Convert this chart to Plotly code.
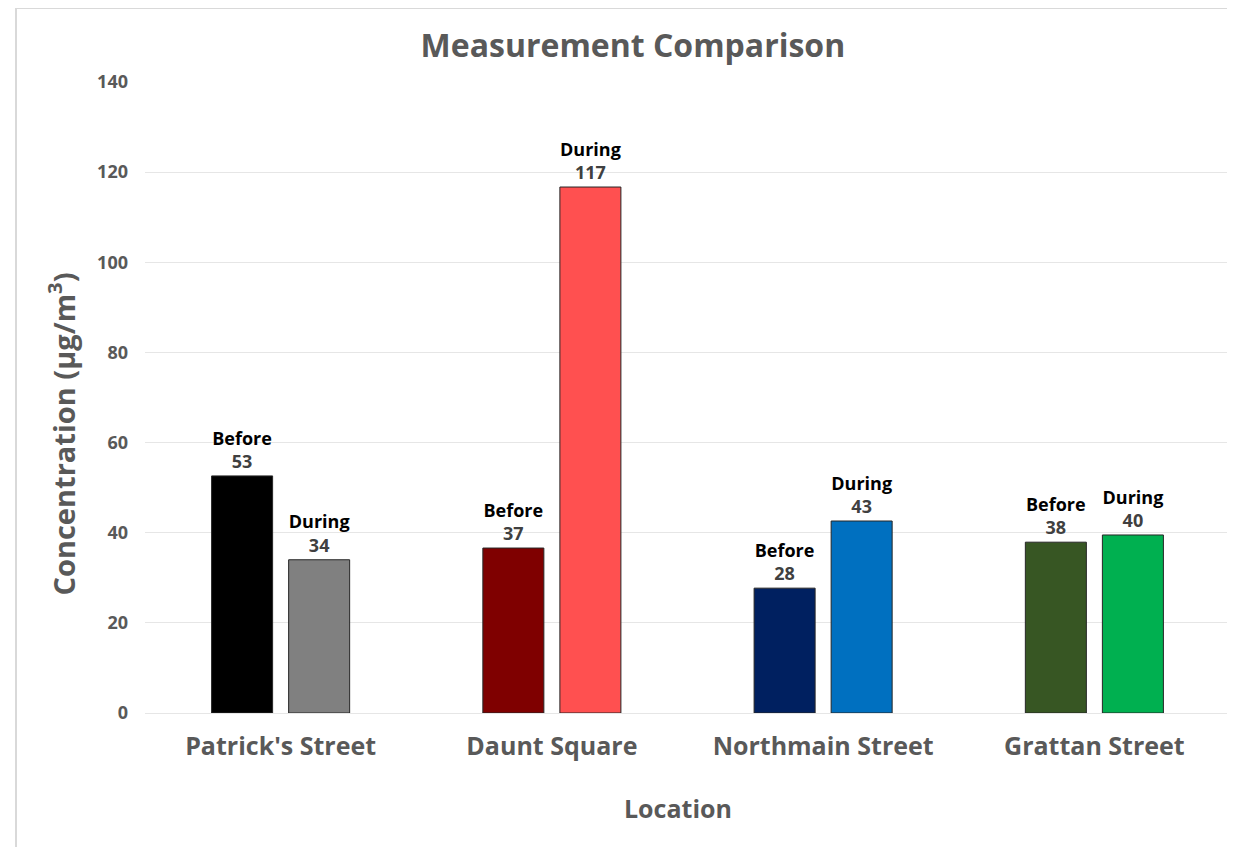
import plotly.graph_objects as go

locations = ["Patrick's Street", "Daunt Square", "Northmain Street", "Grattan Street"]
before_vals = [52.6, 36.6, 27.7, 37.9]
during_vals = [34.0, 116.7, 42.6, 39.5]
before_colors = ["#000000", "#7F0000", "#002060", "#375623"]
during_colors = ["#808080", "#FF5050", "#0070C0", "#00B050"]
y_ticks = [0, 20, 40, 60, 80, 100, 120, 140]

FONT = "Open Sans"
GRAY = "#595959"

fig = go.Figure()
for name, vals, cols in [("Before", before_vals, before_colors), ("During", during_vals, during_colors)]:
    fig.add_trace(go.Bar(
        x=locations, y=vals, name=name,
        marker=dict(color=cols, line=dict(color="#262626", width=1)),
        texttemplate="<span style='color:#000000'>" + name + "</span><br><span style='color:#404040'>%{y:.0f}</span>",
        textposition="outside",
        constraintext="none",
        textfont=dict(family=FONT, size=18, weight="bold"),
        cliponaxis=False,
    ))

fig.update_layout(
    width=1235, height=847,
    paper_bgcolor="white", plot_bgcolor="white",
    barmode="group", bargap=0.432, bargroupgap=0.208,
    showlegend=False,
    margin=dict(l=137, r=13, t=74, b=142),
    title=dict(text="Measurement Comparison", x=0.506, xanchor="center", y=0.955, yanchor="middle",
               font=dict(family=FONT, size=32, color=GRAY, weight="bold")),
    xaxis=dict(
        showgrid=False, showline=False, ticks="",
        tickfont=dict(family=FONT, size=25, color=GRAY, weight="bold"),
        ticklabelstandoff=16,
    ),
    yaxis=dict(
        range=[0, 140], tickvals=y_ticks,
        showgrid=True, gridcolor="#E6E6E6", gridwidth=1,
        zeroline=True, zerolinecolor="#E6E6E6", zerolinewidth=1,
        showline=False, ticks="",
        tickfont=dict(family=FONT, size=18, color=GRAY, weight="bold"),
        ticklabelstandoff=16,
    ),
    annotations=[
        dict(text="Concentration (µg/m<sup>3</sup>)", xref="paper", yref="paper", x=-0.077, y=0.442,
             xanchor="center", yanchor="middle", textangle=-90, showarrow=False,
             font=dict(family=FONT, size=29, color=GRAY, weight="bold")),
        dict(text="Location", xref="paper", yref="paper", x=0.491, y=-0.1506,
             xanchor="center", yanchor="middle", showarrow=False,
             font=dict(family=FONT, size=25, color=GRAY, weight="bold")),
    ],
    shapes=[
        dict(type="line", xref="paper", yref="paper", x0=-0.1189, x1=1.02, y0=1.1173, y1=1.1173,
             line=dict(color="#D9D9D9", width=2)),
        dict(type="line", xref="paper", yref="paper", x0=-0.1189, x1=-0.1189, y0=1.1173, y1=-0.25,
             line=dict(color="#D9D9D9", width=2)),
    ],
)

fig.write_html("out.html")
